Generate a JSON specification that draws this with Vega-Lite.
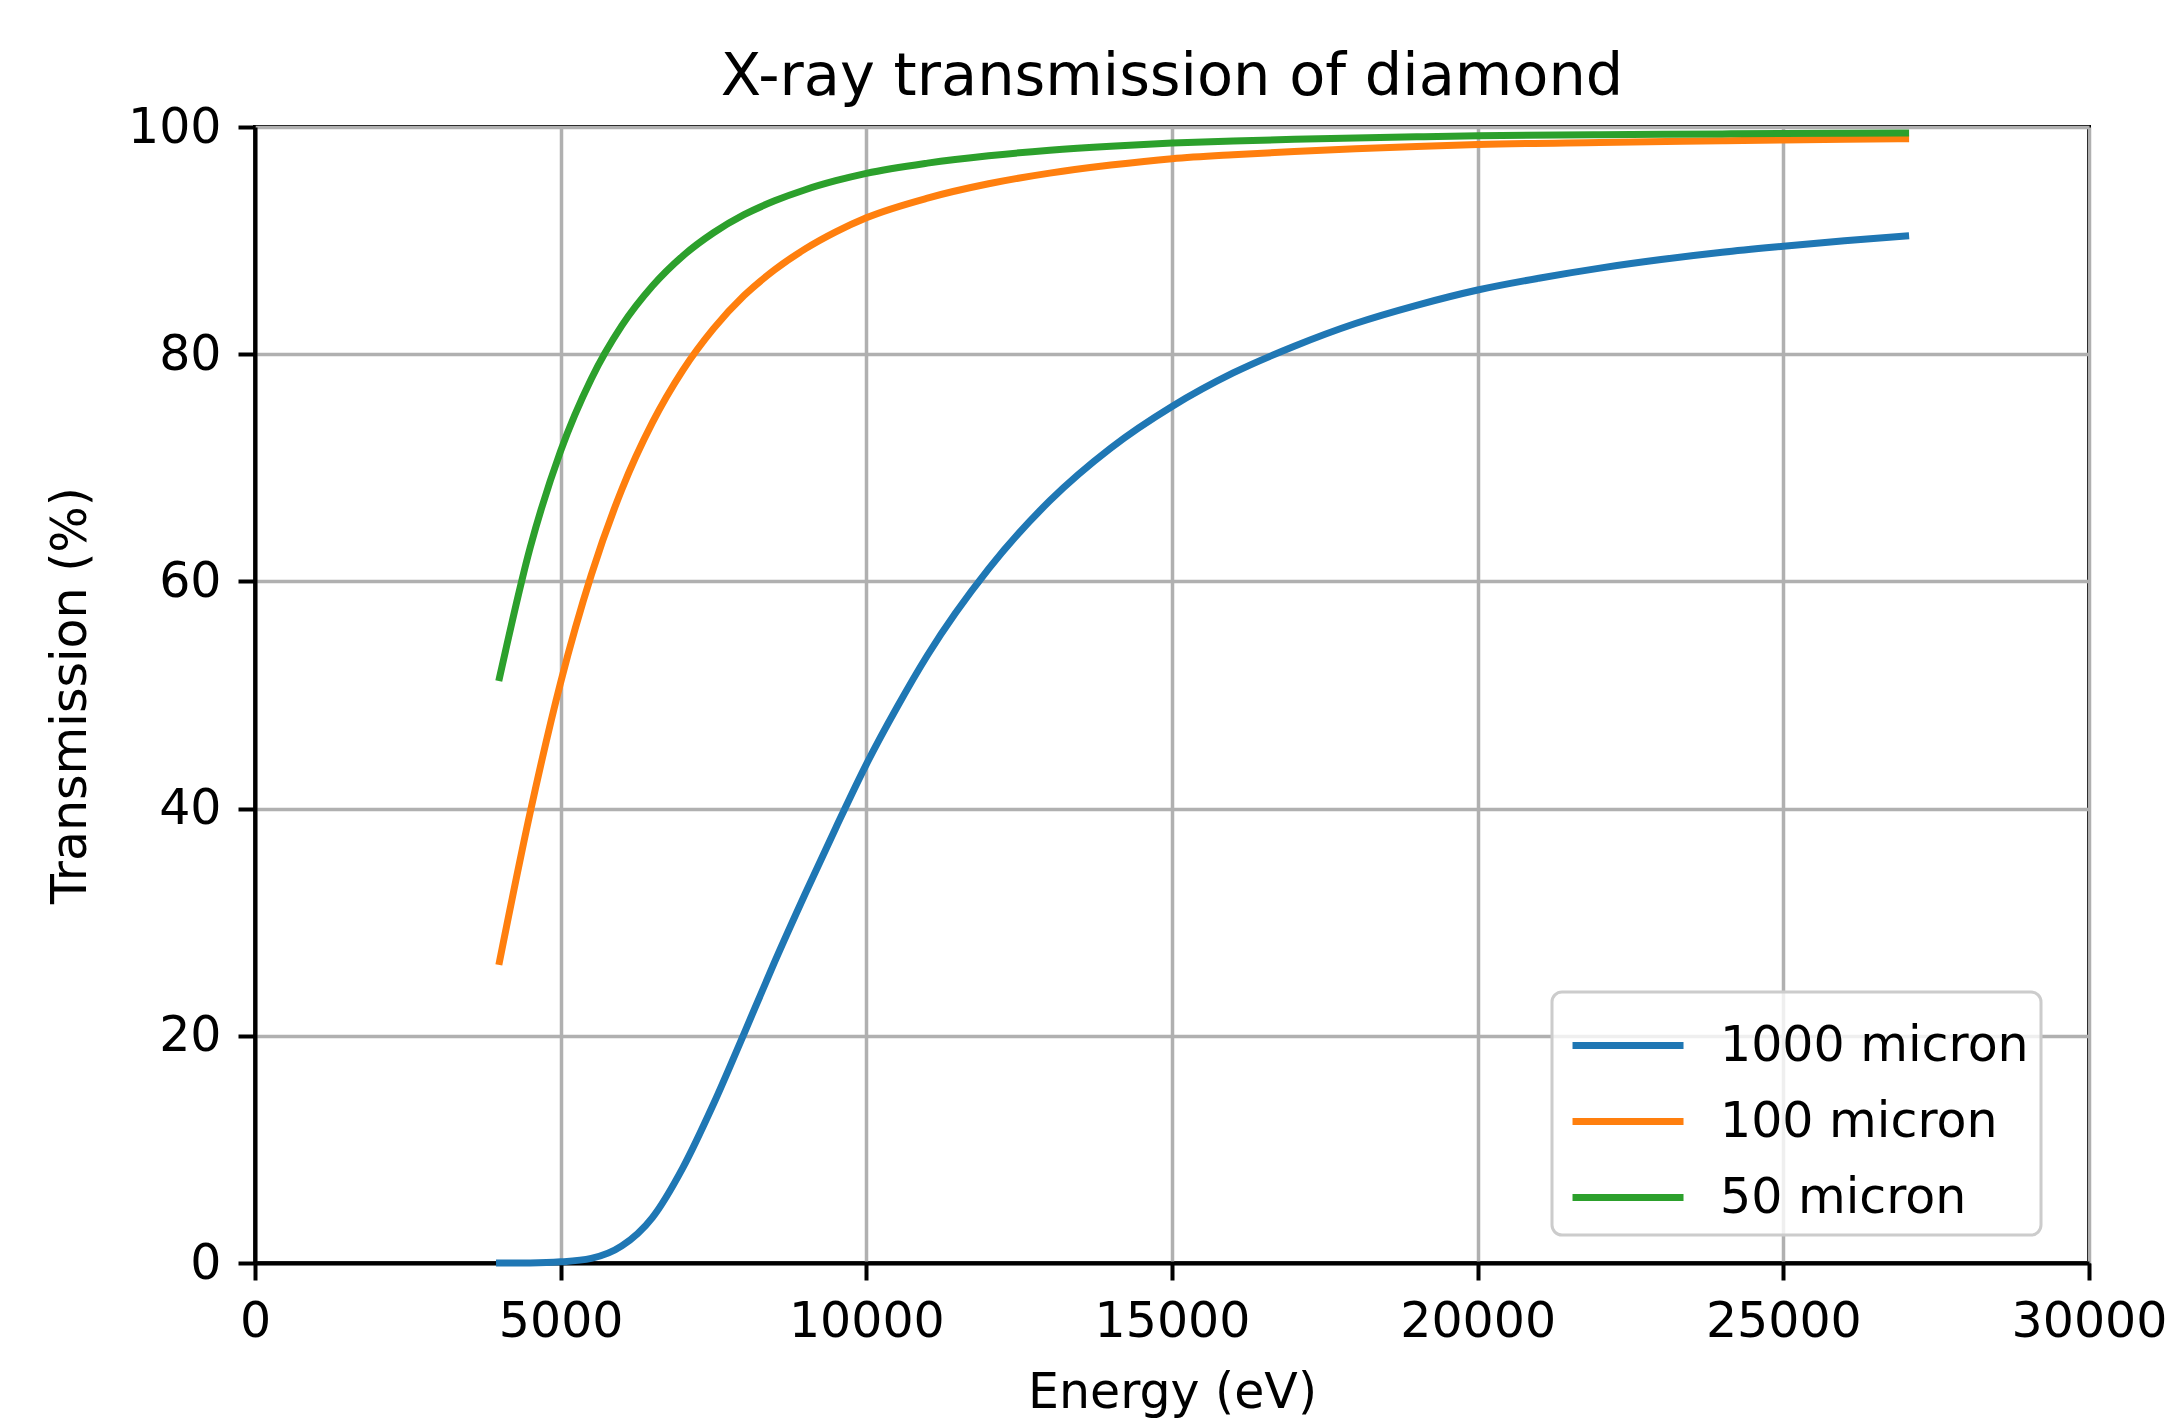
{
  "$schema": "https://vega.github.io/schema/vega-lite/v6.json",
  "width": 1834,
  "height": 1136,
  "autosize": {"type": "none"},
  "padding": {"left": 255, "top": 127, "right": 83, "bottom": 156},
  "background": "white",
  "title": {"text": "X-ray transmission of diamond", "font": "DejaVu Sans", "fontSize": 59, "fontWeight": "normal", "color": "black", "anchor": "middle", "offset": -4},
  "config": {
    "view": {"stroke": "black", "strokeWidth": 4},
    "axis": {
      "domainColor": "black", "domainWidth": 4,
      "tickColor": "black", "tickWidth": 4, "tickSize": 17,
      "labelFont": "DejaVu Sans", "labelFontSize": 49, "labelColor": "black", "labelPadding": 17,
      "labelOverlap": false, "labelFlush": false,
      "titleFont": "DejaVu Sans", "titleFontSize": 49, "titleFontWeight": "normal", "titleColor": "black",
      "gridColor": "#b0b0b0", "gridWidth": 3.5, "gridOpacity": 1
    },
    "legend": {"strokeWidth": 3}
  },
  "data": {"values": [
    {"E": 4000, "T": 0.0, "s": "1000 micron"},
    {"E": 4500, "T": 0.01, "s": "1000 micron"},
    {"E": 5000, "T": 0.1, "s": "1000 micron"},
    {"E": 5500, "T": 0.4, "s": "1000 micron"},
    {"E": 6000, "T": 1.5, "s": "1000 micron"},
    {"E": 6500, "T": 4.0, "s": "1000 micron"},
    {"E": 7000, "T": 8.4, "s": "1000 micron"},
    {"E": 7500, "T": 14.0, "s": "1000 micron"},
    {"E": 8000, "T": 20.2, "s": "1000 micron"},
    {"E": 8500, "T": 26.5, "s": "1000 micron"},
    {"E": 9000, "T": 32.5, "s": "1000 micron"},
    {"E": 9500, "T": 38.3, "s": "1000 micron"},
    {"E": 10000, "T": 43.9, "s": "1000 micron"},
    {"E": 10500, "T": 48.9, "s": "1000 micron"},
    {"E": 11000, "T": 53.5, "s": "1000 micron"},
    {"E": 12000, "T": 61.1, "s": "1000 micron"},
    {"E": 13000, "T": 67.1, "s": "1000 micron"},
    {"E": 14000, "T": 71.75, "s": "1000 micron"},
    {"E": 15000, "T": 75.4, "s": "1000 micron"},
    {"E": 16000, "T": 78.35, "s": "1000 micron"},
    {"E": 17000, "T": 80.7, "s": "1000 micron"},
    {"E": 18000, "T": 82.7, "s": "1000 micron"},
    {"E": 19000, "T": 84.3, "s": "1000 micron"},
    {"E": 20000, "T": 85.65, "s": "1000 micron"},
    {"E": 21000, "T": 86.69, "s": "1000 micron"},
    {"E": 22000, "T": 87.58, "s": "1000 micron"},
    {"E": 23000, "T": 88.33, "s": "1000 micron"},
    {"E": 24000, "T": 88.97, "s": "1000 micron"},
    {"E": 25000, "T": 89.5, "s": "1000 micron"},
    {"E": 26000, "T": 89.99, "s": "1000 micron"},
    {"E": 27000, "T": 90.4, "s": "1000 micron"},
    {"E": 4000, "T": 26.55, "s": "100 micron"},
    {"E": 4500, "T": 39.63, "s": "100 micron"},
    {"E": 5000, "T": 51.12, "s": "100 micron"},
    {"E": 5500, "T": 60.55, "s": "100 micron"},
    {"E": 6000, "T": 68.09, "s": "100 micron"},
    {"E": 6500, "T": 73.97, "s": "100 micron"},
    {"E": 7000, "T": 78.6, "s": "100 micron"},
    {"E": 7500, "T": 82.25, "s": "100 micron"},
    {"E": 8000, "T": 85.16, "s": "100 micron"},
    {"E": 8500, "T": 87.43, "s": "100 micron"},
    {"E": 9000, "T": 89.27, "s": "100 micron"},
    {"E": 9500, "T": 90.77, "s": "100 micron"},
    {"E": 10000, "T": 92.01, "s": "100 micron"},
    {"E": 11000, "T": 93.74, "s": "100 micron"},
    {"E": 12000, "T": 95.0, "s": "100 micron"},
    {"E": 13000, "T": 95.94, "s": "100 micron"},
    {"E": 14000, "T": 96.65, "s": "100 micron"},
    {"E": 15000, "T": 97.21, "s": "100 micron"},
    {"E": 16000, "T": 97.56, "s": "100 micron"},
    {"E": 17000, "T": 97.84, "s": "100 micron"},
    {"E": 18000, "T": 98.08, "s": "100 micron"},
    {"E": 19000, "T": 98.29, "s": "100 micron"},
    {"E": 20000, "T": 98.46, "s": "100 micron"},
    {"E": 22000, "T": 98.64, "s": "100 micron"},
    {"E": 24000, "T": 98.79, "s": "100 micron"},
    {"E": 25000, "T": 98.86, "s": "100 micron"},
    {"E": 26000, "T": 98.92, "s": "100 micron"},
    {"E": 27000, "T": 98.97, "s": "100 micron"},
    {"E": 4000, "T": 51.53, "s": "50 micron"},
    {"E": 4500, "T": 62.95, "s": "50 micron"},
    {"E": 5000, "T": 71.49, "s": "50 micron"},
    {"E": 5500, "T": 77.82, "s": "50 micron"},
    {"E": 6000, "T": 82.51, "s": "50 micron"},
    {"E": 6500, "T": 86.0, "s": "50 micron"},
    {"E": 7000, "T": 88.66, "s": "50 micron"},
    {"E": 7500, "T": 90.69, "s": "50 micron"},
    {"E": 8000, "T": 92.28, "s": "50 micron"},
    {"E": 8500, "T": 93.5, "s": "50 micron"},
    {"E": 9000, "T": 94.48, "s": "50 micron"},
    {"E": 9500, "T": 95.27, "s": "50 micron"},
    {"E": 10000, "T": 95.92, "s": "50 micron"},
    {"E": 11000, "T": 96.82, "s": "50 micron"},
    {"E": 12000, "T": 97.47, "s": "50 micron"},
    {"E": 13000, "T": 97.95, "s": "50 micron"},
    {"E": 14000, "T": 98.31, "s": "50 micron"},
    {"E": 15000, "T": 98.59, "s": "50 micron"},
    {"E": 16000, "T": 98.77, "s": "50 micron"},
    {"E": 17000, "T": 98.92, "s": "50 micron"},
    {"E": 18000, "T": 99.04, "s": "50 micron"},
    {"E": 19000, "T": 99.14, "s": "50 micron"},
    {"E": 20000, "T": 99.23, "s": "50 micron"},
    {"E": 22000, "T": 99.32, "s": "50 micron"},
    {"E": 24000, "T": 99.39, "s": "50 micron"},
    {"E": 25000, "T": 99.43, "s": "50 micron"},
    {"E": 26000, "T": 99.46, "s": "50 micron"},
    {"E": 27000, "T": 99.48, "s": "50 micron"}
  ]},
  "encoding": {
    "x": {"field": "E", "type": "quantitative", "title": "Energy (eV)",
      "scale": {"domain": [0, 30000], "nice": false, "zero": false},
      "axis": {"values": [0, 5000, 10000, 15000, 20000, 25000, 30000], "format": "d", "titlePadding": 22}},
    "y": {"field": "T", "type": "quantitative", "title": "Transmission (%)",
      "scale": {"domain": [0, 100], "nice": false},
      "axis": {"values": [0, 20, 40, 60, 80, 100], "format": "d", "titlePadding": 32}},
    "color": {"field": "s", "type": "nominal",
      "scale": {"domain": ["1000 micron", "100 micron", "50 micron"], "range": ["#1f77b4", "#ff7f0e", "#2ca02c"]},
      "legend": {"orient": "none", "legendX": 1297, "legendY": 865, "title": null,
        "symbolType": "M-0.868,0H2.053", "symbolSize": 5776, "symbolStrokeWidth": 7,
        "labelFont": "DejaVu Sans", "labelFontSize": 49, "labelColor": "black", "labelOffset": 73,
        "fillColor": "rgba(255,255,255,0.8)", "strokeColor": "#cccccc", "cornerRadius": 10,
        "padding": 12, "rowPadding": 9, "labelLimit": 0}}
  },
  "layer": [
    {"transform": [{"filter": "datum.s === '1000 micron'"}],
     "mark": {"type": "line", "strokeWidth": 7, "interpolate": "monotone", "strokeCap": "square"}},
    {"transform": [{"filter": "datum.s === '100 micron'"}],
     "mark": {"type": "line", "strokeWidth": 7, "interpolate": "monotone", "strokeCap": "square"}},
    {"transform": [{"filter": "datum.s === '50 micron'"}],
     "mark": {"type": "line", "strokeWidth": 7, "interpolate": "monotone", "strokeCap": "square"}}
  ]
}
